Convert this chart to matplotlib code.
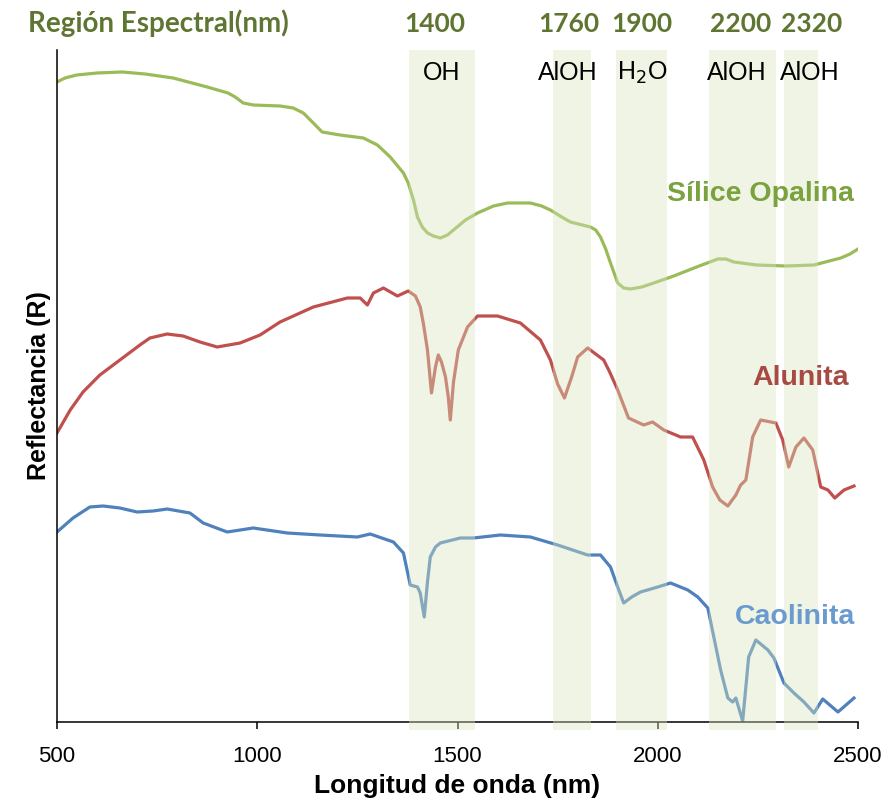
import numpy as np
import matplotlib
matplotlib.use('Agg')
import matplotlib.pyplot as plt

# Reflectancia relativa (unidades arbitrarias, curvas desplazadas)
wl_silice = [500, 520, 549, 600, 663, 720, 790, 875, 927, 945, 965, 990, 1057, 1090, 1115,
             1140, 1162, 1207, 1265, 1300, 1332, 1365, 1377, 1390, 1400, 1412, 1425,
             1440, 1457, 1475, 1490, 1520, 1550, 1590, 1625, 1682, 1710, 1732, 1760, 1782,
             1832, 1845, 1857, 1870, 1882, 1900, 1915, 1932, 1960, 1990, 2040, 2097, 2150,
             2170, 2190, 2247, 2320, 2390, 2457, 2480, 2500]
r_silice = [640, 644, 647, 649, 650, 648, 644, 635, 629, 625, 619, 617, 616, 614, 609,
            599, 590, 587, 584, 577, 565, 549, 539, 522, 505, 495, 489,
            486, 484, 487, 492, 502, 509, 516, 519, 519, 516, 512, 505, 500,
            495, 492, 485, 473, 459, 439, 434, 433, 435, 439, 446, 455, 463,
            463, 460, 457, 456, 457, 464, 468, 473]

wl_alunita = [500, 533, 565, 607, 657, 707, 732, 775, 815, 857, 900, 957, 1007, 1057,
              1140, 1225, 1257, 1275, 1290, 1315, 1350, 1377, 1395, 1407, 1415, 1425, 1435,
              1445, 1452, 1460, 1470, 1477, 1482, 1490, 1502, 1525, 1550, 1600, 1657, 1707,
              1732, 1750, 1767, 1785, 1800, 1825, 1865, 1880, 1900, 1927, 1965, 1987, 2015,
              2057, 2087, 2115, 2137, 2155, 2175, 2195, 2207, 2220, 2237, 2257, 2295, 2312,
              2327, 2345, 2365, 2387, 2407, 2425, 2442, 2465, 2490]
r_alunita = [289, 312, 330, 347, 362, 377, 384, 388, 386, 380, 375, 379, 387, 400,
             415, 424, 424, 417, 429, 434, 426, 431, 426, 415, 398, 372, 329,
             355, 367, 360, 345, 325, 302, 340, 372, 395, 406, 406, 399, 382,
             362, 338, 324, 345, 365, 374, 362, 350, 332, 304, 297, 300, 292,
             285, 285, 262, 235, 222, 216, 227, 237, 242, 285, 302, 299, 282,
             255, 275, 284, 272, 235, 232, 224, 232, 236]

wl_caolinita = [500, 540, 582, 615, 657, 700, 740, 775, 832, 865, 925, 990, 1075, 1157,
                1250, 1282, 1340, 1365, 1382, 1400, 1407, 1417, 1425, 1432, 1445, 1457,
                1507, 1540, 1607, 1682, 1750, 1825, 1857, 1882, 1900, 1915, 1935, 1957,
                2000, 2032, 2075, 2100, 2125, 2140, 2157, 2175, 2187, 2195, 2212, 2220,
                2227, 2245, 2275, 2290, 2315, 2340, 2365, 2390, 2412, 2450, 2490]
r_caolinita = [190, 204, 215, 216, 214, 210, 211, 213, 209, 199, 190, 194, 189, 187,
               185, 188, 180, 169, 137, 135, 129, 105, 140, 165, 175, 179,
               184, 184, 187, 185, 177, 167, 167, 155, 135, 119, 125, 130,
               135, 139, 132, 125, 114, 85, 52, 24, 20, 24, 1, 35,
               65, 82, 72, 64, 39, 29, 20, 9, 23, 10, 24]

# bandas de absorcion
bandas = [(1379, 1544), (1738, 1833), (1896, 2023), (2128, 2295), (2315, 2400)]
band_centros = [1400, 1760, 1900, 2200, 2320]
band_mol = ['OH', 'AlOH', 'H$_2$O', 'AlOH', 'AlOH']
band_num_x = [435, 569, 642, 741, 812]   # posicion en px del numero
band_mol_x = [442, 568, 642, 737, 810]

W, H = 893, 802
fig = plt.figure(figsize=(W / 100, H / 100), dpi=100)
ax = fig.add_axes([57 / W, (H - 722) / H, (858 - 57) / W, (722 - 50) / H])

ax.plot(wl_silice, r_silice, color='#9bbb59', lw=2.3, solid_joinstyle='round', zorder=2)
ax.plot(wl_alunita, r_alunita, color='#c0504d', lw=2.3, solid_joinstyle='round', zorder=2)
ax.plot(wl_caolinita, r_caolinita, color='#4f81bd', lw=2.3, solid_joinstyle='round', zorder=2)

for a, b in bandas:
    ax.axvspan(a, b, ymin=-8 / 672, ymax=1.0, color='#d7e4bd', alpha=0.4,
               lw=0, zorder=3, clip_on=False)

ax.set_xlim(500, 2500)
ax.set_ylim(0, 672)
ax.set_xticks([500, 1000, 1500, 2000, 2500])
ax.set_yticks([])
ax.spines['top'].set_visible(False)
ax.spines['right'].set_visible(False)
ax.spines['left'].set_linewidth(1.1)
ax.spines['bottom'].set_linewidth(1.1)
ax.tick_params(axis='x', direction='out', length=5, width=1.1, pad=12,
               labelsize=16, labelfontfamily='Liberation Sans')
ax.set_xlabel('Longitud de onda (nm)', fontsize=19, fontweight='bold',
              family='Liberation Sans', labelpad=5)
ax.set_ylabel('Reflectancia (R)', fontsize=18, fontweight='bold',
              family='Liberation Sans', labelpad=4)

# etiquetas de las curvas
ax.text(2490, 528, 'Sílice Opalina', color='#7aa23e', fontsize=20.5, fontweight='bold',
        family='Liberation Sans', ha='right', va='center', zorder=4)
ax.text(2478, 344, 'Alunita', color='#a84a44', fontsize=20.5, fontweight='bold',
        family='Liberation Sans', ha='right', va='center', zorder=4)
ax.text(2492, 105, 'Caolinita', color='#6a9bd0', fontsize=20.5, fontweight='bold',
        family='Liberation Sans', ha='right', va='center', zorder=4)

# encabezado
verde = '#5f7532'
fig.text(28 / W, 1 - 23 / H, 'Región Espectral(nm)', color=verde, fontsize=20,
         fontweight='bold', family='Lato', ha='left', va='center')
for px, c in zip(band_num_x, band_centros):
    fig.text(px / W, 1 - 24 / H, str(c), color=verde, fontsize=19, fontweight='bold',
             family='Lato', ha='center', va='center')
for px, m in zip(band_mol_x, band_mol):
    fig.text(px / W, 1 - 73 / H, m, color='black', fontsize=18,
             family='Liberation Sans', ha='center', va='center')

plt.savefig('out.png', dpi=100)
